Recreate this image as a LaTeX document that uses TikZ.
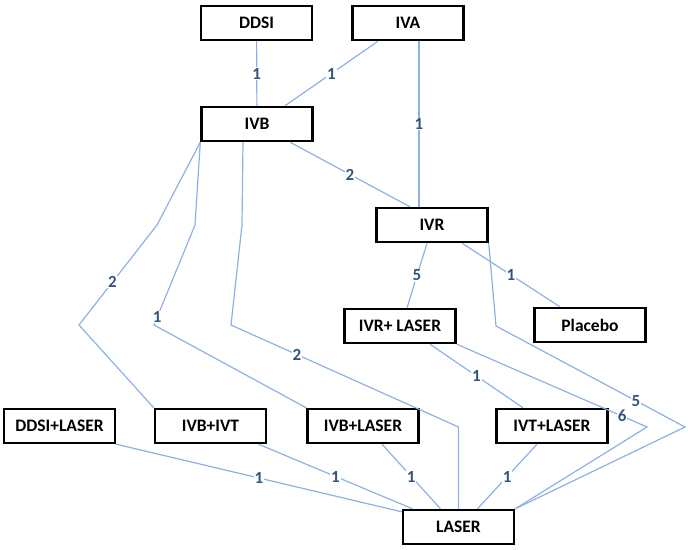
\documentclass[tikz,border=0pt]{standalone}
\usepackage{fontspec}
\setmainfont{Carlito}
\definecolor{edgeBlue}{RGB}{141,177,226}
\definecolor{labelBlue}{RGB}{52,84,128}

\tikzstyle{trtNode}=[draw,fill=white,line width=2.4pt,minimum width=111pt,minimum height=34pt,inner sep=0pt,font=\fontsize{17.5}{20}\selectfont\bfseries]
\tikzstyle{netEdge}=[draw=edgeBlue,line width=1.2pt]
\tikzstyle{trialCount}=[fill=white,inner sep=0.8pt,text=labelBlue,font=\fontsize{17}{20}\selectfont\bfseries]

\begin{document}
\begin{tikzpicture}[x=1pt,y=-1pt]
		\useasboundingbox (0,0) rectangle (688,549);
		
		\node[trtNode] (ddsi) at (256.5, 23) {DDSI};
		\node[trtNode] (iva) at (408, 23) {IVA};
		\node[trtNode] (ivb) at (257, 124) {IVB};
		\node[trtNode] (ivr) at (432, 225) {IVR};
		\node[trtNode] (ivrLaser) at (400, 326) {IVR+ LASER};
		\node[trtNode] (placebo) at (590, 325) {Placebo};
		\node[trtNode] (ddsiLaser) at (59.5, 426) {DDSI+LASER};
		\node[trtNode] (ivbIvt) at (210.5, 426) {IVB+IVT};
		\node[trtNode] (ivbLaser) at (363, 426) {IVB+LASER};
		\node[trtNode] (ivtLaser) at (552, 426) {IVT+LASER};
		\node[trtNode] (laser) at (458.5, 527) {LASER};
		
		% bends of the long connectors
		\coordinate (b2a) at (157, 225);
		\coordinate (b2b) at (79, 325);
		\coordinate (b1a) at (195, 225);
		\coordinate (b1b) at (154, 325);
		\coordinate (bLa) at (242, 225);
		\coordinate (bLb) at (231, 325);
		\coordinate (bLc) at (458.5, 427);
		\coordinate (b5a) at (496, 326);
		\coordinate (b5b) at (685, 427);
		\coordinate (b6) at (647, 427);
		
		\draw[netEdge] (ddsi) -- node[trialCount] {1} (ivb);
		\draw[netEdge] ([xshift=-30pt]iva.south) -- node[trialCount] {1} ([xshift=28pt]ivb.north);
		\draw[netEdge] ([xshift=11pt]iva.south) -- node[trialCount] {1} ([xshift=-13pt]ivr.north);
		\draw[netEdge] ([xshift=33pt]ivb.south) -- node[trialCount] {2} ([xshift=-22pt]ivr.north);
		\draw[netEdge] ([xshift=-5pt]ivr.south) -- node[trialCount] {5} ([xshift=7pt]ivrLaser.north);
		\draw[netEdge] ([xshift=30pt]ivr.south) -- node[trialCount] {1} ([xshift=-30pt]placebo.north);
		\draw[netEdge] ([xshift=30pt]ivrLaser.south) -- node[trialCount] {1} ([xshift=-29pt]ivtLaser.north);
		
		\draw[netEdge] (ivb.south west) -- (b2a) -- node[trialCount,pos=0.57] {2} (b2b) -- (ivbIvt.north west);
		\draw[netEdge] (ivb.south west) -- (b1a) -- node[trialCount,pos=0.92] {1} (b1b) -- (ivbLaser.north west);
		\draw[netEdge] ([xshift=-14pt]ivb.south) -- (bLa) -- (bLb) -- node[trialCount,pos=0.29] {2} (bLc) -- (laser.north);
		\draw[netEdge] (ivr.south east) -- (b5a) -- node[trialCount,pos=0.74] {5} (b5b) -- (laser.north east);
		\draw[netEdge] (ivrLaser.south east) -- node[trialCount,pos=0.87] {6} (b6) -- (laser.north east);
		
		\draw[netEdge] (ddsiLaser.south east) -- node[trialCount] {1} ([yshift=-3pt]laser.north west);
		\draw[netEdge] ([xshift=48pt]ivbIvt.south) -- node[trialCount] {1} ([xshift=-46pt]laser.north);
		\draw[netEdge] ([xshift=19pt]ivbLaser.south) -- node[trialCount] {1} ([xshift=-18pt]laser.north);
		\draw[netEdge] ([xshift=-15pt]ivtLaser.south) -- node[trialCount] {1} ([xshift=19pt]laser.north);
\end{tikzpicture}
\end{document}
